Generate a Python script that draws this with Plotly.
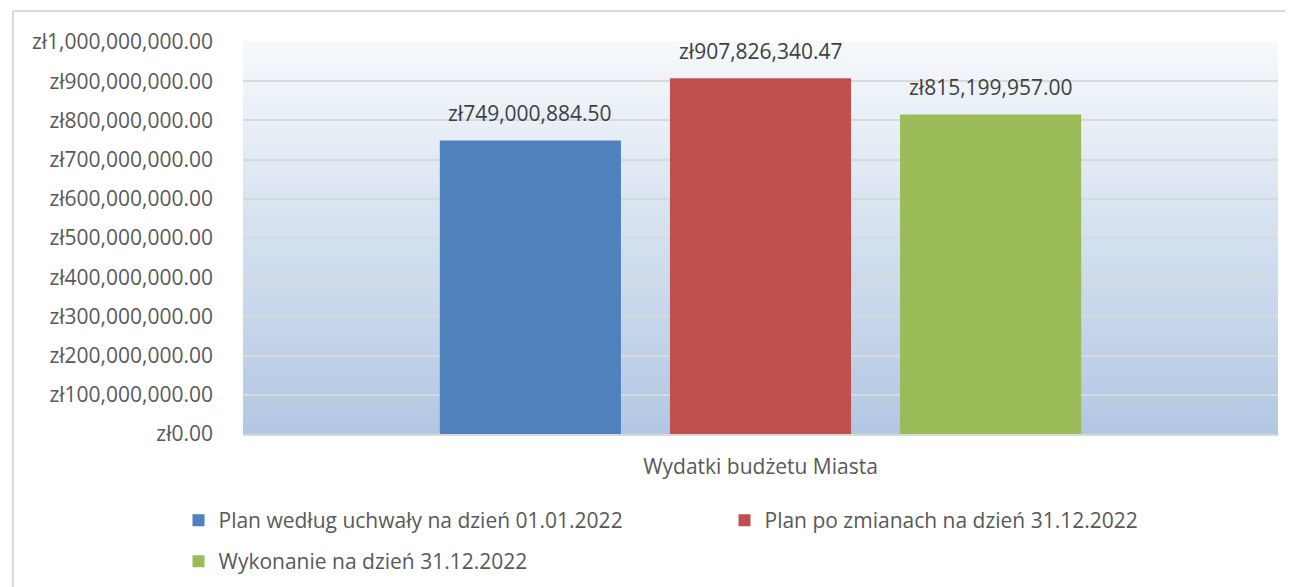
import plotly.graph_objects as go

categories = ["Wydatki budżetu Miasta"]
series_names = [
    "Plan według uchwały na dzień 01.01.2022",
    "Plan po zmianach na dzień 31.12.2022",
    "Wykonanie na dzień 31.12.2022",
]
series_values = [
    [749000884.50],
    [907826340.47],
    [815199957.00],
]
series_colors = ["#4F81BD", "#C0504D", "#9BBB59"]
legend_ids = ["legend", "legend2", "legend3"]

FONT = "Open Sans"
FS = 21
TXT = "#595959"
LBL = "#404040"

# figure geometry (page body has an 8px margin)
W, H = 1285, 579
ML, MR, MT, MB = 235, 15, 34, 153
BARGAP, GROUPGAP = 0.333, 0.213
plot_w = W - ML - MR

fig = go.Figure()
for name, vals, col, lg in zip(series_names, series_values, series_colors, legend_ids):
    fig.add_trace(go.Bar(
        x=categories, y=vals, name=name, marker_color=col, marker_line_width=0,
        legend=lg, hoverinfo="y+name",
    ))

# value labels above bars
slot = plot_w * (1 - BARGAP) / len(series_values)
annotations = []
for i, vals in enumerate(series_values):
    for c, v in zip(categories, vals):
        annotations.append(dict(
            x=c, y=v, xref="x", yref="y", text="zł{:,.2f}".format(v),
            showarrow=False, yanchor="bottom", xanchor="center",
            xshift=(i - (len(series_values) - 1) / 2) * slot, yshift=11,
            font=dict(family=FONT, size=FS, color=LBL)))

# gradient plot background (style only)
top = (246, 249, 252)
bot = (178, 199, 227)
n = 60
shapes = []
for i in range(n):
    t = (i + 0.5) / n
    c = tuple(round(bot[k] + (top[k] - bot[k]) * t) for k in range(3))
    shapes.append(dict(type="rect", xref="x domain", yref="y domain",
                       x0=0, x1=1, y0=i / n, y1=(i + 1) / n + 0.002,
                       fillcolor="rgb(%d,%d,%d)" % c, line_width=0, layer="below"))

# chart border (top & left visible in reference)
plot_h = H - MT - MB
bx = (13 - 8 - ML) / plot_w
by = 1 + (MT - 3) / plot_h
shapes.append(dict(type="line", xref="paper", yref="paper", x0=bx, x1=1.2, y0=by, y1=by,
                   line=dict(color="#D9D9D9", width=2)))
shapes.append(dict(type="line", xref="paper", yref="paper", x0=bx, x1=bx, y0=by, y1=-1,
                   line=dict(color="#D9D9D9", width=2)))

def leg(xpx, ypx):
    return dict(orientation="h", xref="container", yref="container",
                x=xpx / W, y=1 - ypx / H, xanchor="left", yanchor="top",
                font=dict(family=FONT, size=FS, color=TXT), itemclick=False,
                itemdoubleclick=False, bgcolor="rgba(0,0,0,0)")

fig.update_layout(
    width=W, height=H,
    margin=dict(l=ML, r=MR, t=MT, b=MB, autoexpand=False),
    paper_bgcolor="white", plot_bgcolor="white",
    barmode="group", bargap=BARGAP, bargroupgap=GROUPGAP,
    font=dict(family=FONT, size=FS, color=TXT),
    shapes=shapes, annotations=annotations,
    showlegend=True,
    legend=leg(170.5, 492),
    legend2=leg(716.5, 492),
    legend3=leg(170.5, 533),
)
fig.update_yaxes(range=[0, 1000000000], dtick=100000000, tickprefix="zł",
                 tickformat=",.2f", gridcolor="#D9D9D9", gridwidth=2,
                 zeroline=False, ticks="", ticklabelstandoff=29, automargin=False,
                 tickfont=dict(family=FONT, size=FS, color=TXT))
fig.update_xaxes(showline=True, linecolor="#D9D9D9", linewidth=2, ticks="",
                 ticklabelstandoff=13, automargin=False,
                 tickfont=dict(family=FONT, size=FS, color=TXT))

fig.write_html("out.html")
